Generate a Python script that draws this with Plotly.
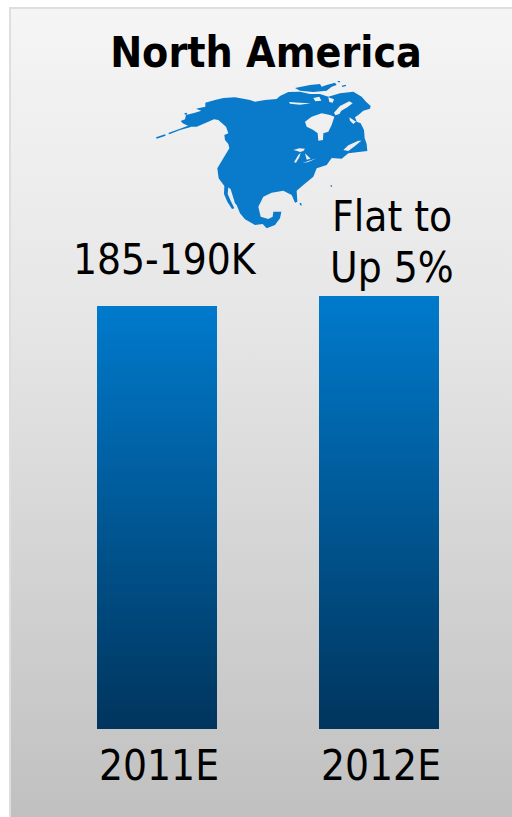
import plotly.graph_objects as go

# Chart content
TITLE = "North America"
YEARS = ["2011E", "2012E"]
UNITS = [187.5, 192.0]
LABEL_LINES = [["185-190K"], ["Flat to", "Up 5%"]]
LABEL_SHIFT = [(8, 20), (13, 2)]
LINE_PITCH = 51

# Outline of the continent, in the map inset's own 720x510 grid
MAINLAND = [
    (122, 153), (135, 148), (138, 135), (165, 128), (184, 122), (168, 116), (196, 110), (196, 98),
    (225, 90), (250, 84), (285, 82), (310, 86), (330, 90), (345, 95), (375, 90), (410, 87),
    (420, 78), (445, 66), (480, 65), (510, 72), (540, 72), (565, 80), (600, 70), (640, 65),
    (665, 80), (678, 95), (692, 108), (690, 116), (670, 122), (655, 135), (645, 142), (650, 155),
    (662, 160), (672, 180), (674, 205), (680, 222), (682, 243), (650, 247), (625, 250), (605, 266),
    (575, 264), (560, 285), (530, 295), (520, 320), (490, 345), (470, 362), (472, 395), (465, 398),
    (455, 375), (430, 362), (395, 368), (370, 380), (355, 410), (362, 440), (385, 447), (398, 440),
    (400, 425), (424, 425), (420, 445), (405, 465), (380, 475), (368, 462), (345, 465), (315, 448),
    (300, 430), (290, 405), (285, 400), (272, 358), (265, 352), (263, 372), (272, 392), (283, 415),
    (276, 417), (262, 395), (252, 372), (253, 348), (236, 325), (232, 295), (250, 265), (268, 235),
    (265, 222), (255, 210), (253, 195), (265, 190), (258, 170), (235, 150), (222, 148), (205, 155),
    (170, 170), (150, 170), (128, 160),
]
ALEUTIANS = [(85, 189), (120, 176), (150, 165), (170, 163), (150, 172), (118, 181), (88, 193)]
ALEUTIAN_TIP = [(48, 202), (75, 193), (77, 197), (50, 206)]
KODIAK = [(133, 130), (140, 128), (142, 133), (135, 134)]
ELLESMERE = [
    (465, 54), (510, 45), (540, 42), (545, 50), (560, 45), (585, 38), (590, 45), (575, 50),
    (560, 62), (520, 66), (480, 62),
]
DEVON = [(592, 34), (600, 33), (600, 37), (594, 37)]
AXEL = [(605, 47), (618, 44), (618, 48), (607, 51)]
BERMUDA = [(572, 346), (576, 346), (576, 350), (572, 350)]
KEY = [(479, 398), (484, 400), (485, 407), (480, 405)]

HUDSON_BAY = [
    (495, 155), (515, 140), (545, 130), (570, 135), (583, 140), (575, 165), (565, 185), (550, 190),
    (549, 210), (535, 212), (533, 190), (520, 180), (500, 170),
]
FOXE_BASIN = [
    (582, 128), (600, 108), (628, 94), (638, 100), (622, 112), (604, 122), (598, 132), (586, 136),
]
HUDSON_STRAIT = [(628, 142), (648, 155), (640, 162), (630, 152)]
ST_LAWRENCE = [(610, 240), (625, 226), (655, 212), (664, 212), (642, 230), (625, 243)]
ARCTIC_SOUND_A = [(447, 96), (480, 98), (512, 100), (480, 104), (450, 101)]
ARCTIC_SOUND_B = [(520, 84), (538, 80), (544, 92), (526, 94)]
ARCTIC_SOUND_C = [(565, 82), (582, 88), (578, 98), (568, 96)]
SUPERIOR = [(460, 240), (478, 235), (495, 236), (490, 243), (480, 246), (470, 242)]
MICHIGAN = [(462, 277), (475, 255), (482, 248), (478, 262), (468, 278)]
HURON = [(495, 250), (512, 266), (500, 269)]
ERIE = [(487, 279), (530, 265), (505, 276)]

LANDS = [MAINLAND, ALEUTIANS, ALEUTIAN_TIP, KODIAK, ELLESMERE, DEVON, AXEL, BERMUDA, KEY]
WATERS = [HUDSON_BAY, FOXE_BASIN, HUDSON_STRAIT, ST_LAWRENCE, ARCTIC_SOUND_A,
          ARCTIC_SOUND_B, ARCTIC_SOUND_C, SUPERIOR, MICHIGAN, HURON, ERIE]

FONT = "DejaVu Sans Condensed, DejaVu Sans, sans-serif"
W, H = 512, 817

map_x, map_y = [], []
# Waters run against the land's winding so that they punch through the fill
for ring in LANDS + [w[::-1] for w in WATERS]:
    map_x += [p[0] for p in ring] + [ring[0][0], None]
    map_y += [p[1] for p in ring] + [ring[0][1], None]

fig = go.Figure()
fig.add_bar(x=YEARS, y=UNITS, width=120 / 222, marker=dict(color="#0078cb", line_width=0),
            hoverinfo="skip", cliponaxis=False)
fig.add_scatter(x=map_x, y=map_y, xaxis="x2", yaxis="y2", mode="none", fill="toself",
                fillcolor="#0a7acb", hoverinfo="skip")

for year, value, lines, (dx, dy) in zip(YEARS, UNITS, LABEL_LINES, LABEL_SHIFT):
    # Lines are stacked by hand to keep their spacing tighter than Plotly's default
    for row, line in enumerate(reversed(lines)):
        fig.add_annotation(x=year, y=value, text=line, showarrow=False, yanchor="bottom",
                           xshift=dx, yshift=dy + row * LINE_PITCH,
                           font=dict(family=FONT, size=42, color="#000000"))

fig.update_layout(
    width=W, height=H, margin=dict(l=0, r=0, t=0, b=0), showlegend=False,
    paper_bgcolor="#ffffff", plot_bgcolor="rgba(0,0,0,0)", bargap=0,
    title=dict(text=f"<b>{TITLE}</b>", x=266 / W, xanchor="center", y=1 - 52 / H, yanchor="middle",
               font=dict(family=FONT, size=42.5, color="#000000")),
    xaxis=dict(domain=[46 / W, 490 / W], range=[-0.5, 1.5], type="category", showgrid=False,
               showline=False, zeroline=False, ticks="", ticklabelstandoff=8, ticklabelshift=2,
               tickfont=dict(family=FONT, size=42, color="#000000")),
    yaxis=dict(domain=[1 - 729 / H, 1 - 165 / H], range=[0, 250], visible=False),
    xaxis2=dict(domain=[140 / W, 380 / W], range=[0, 720], visible=False, anchor="y2"),
    yaxis2=dict(domain=[1 - 240 / H, 1 - 70 / H], range=[510, 0], visible=False, anchor="x2"),
    shapes=[dict(type="rect", xref="paper", yref="paper", layer="below",
                 x0=10 / W, x1=1.02, y0=-0.02, y1=1 - 8 / H,
                 fillcolor="#e0e0e0", line=dict(color="#dedede", width=2))],
)

# Vertical fades for the panel and the bars, which Plotly has no attribute for
FADES = """
(function () {
  var svg = document.querySelector('.main-svg');
  var NS = 'http://www.w3.org/2000/svg';
  var defs = document.createElementNS(NS, 'defs');
  function fade(id, stops) {
    var g = document.createElementNS(NS, 'linearGradient');
    g.setAttribute('id', id);
    g.setAttribute('x1', '0'); g.setAttribute('y1', '0');
    g.setAttribute('x2', '0'); g.setAttribute('y2', '1');
    stops.forEach(function (s) {
      var st = document.createElementNS(NS, 'stop');
      st.setAttribute('offset', s[0]);
      st.setAttribute('stop-color', s[1]);
      g.appendChild(st);
    });
    defs.appendChild(g);
  }
  fade('panelFade', [[0, '#f5f5f5'], [0.38, '#e6e6e6'], [1, '#bfbfbf']]);
  fade('barFade', [[0, '#007acc'], [1, '#00355d']]);
  svg.insertBefore(defs, svg.firstChild);
  document.querySelectorAll('.shapelayer path').forEach(function (p) {
    p.style.fill = 'url(#panelFade)';
    p.style.fillOpacity = 1;
  });
  document.querySelectorAll('.bars .point path').forEach(function (p) {
    p.style.fill = 'url(#barFade)';
  });
})();
"""

fig.write_html("out.html", post_script=FADES, config=dict(displayModeBar=False))
